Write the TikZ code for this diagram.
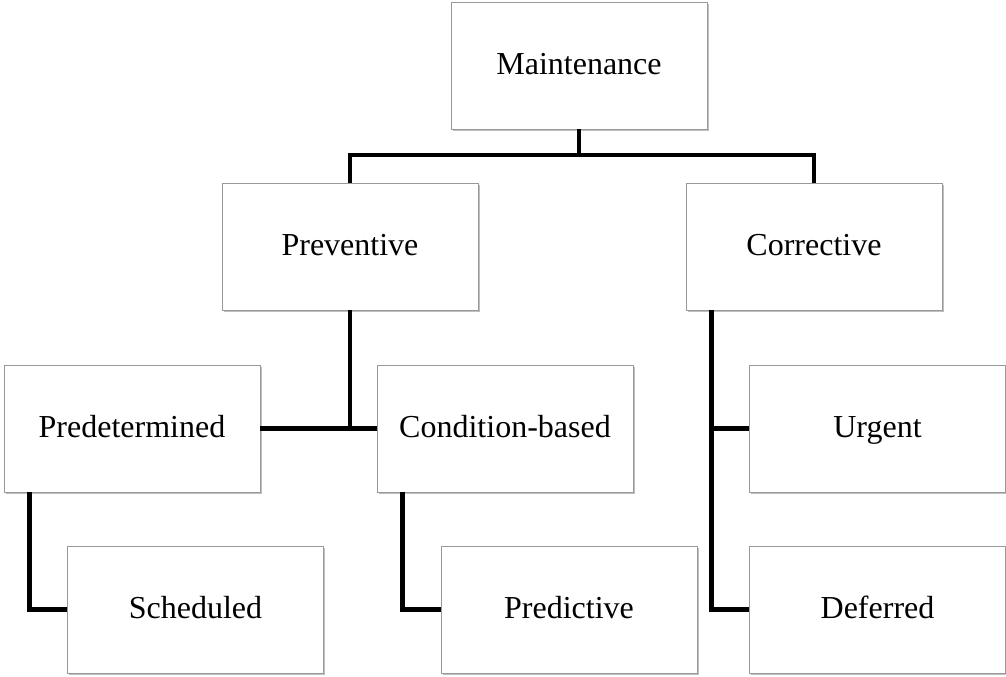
\documentclass[tikz,border=0pt]{standalone}
\usepackage{fontspec}
\setmainfont{Liberation Serif}
\usetikzlibrary{shadows,calc}
\begin{document}
\begin{tikzpicture}[x=0.75pt,y=-0.75pt,
  box/.style={draw=black!40, line width=0.6pt, fill=white, minimum width=192pt, minimum height=95.25pt, inner sep=0pt,
    text height=18pt, text depth=5.2pt,
    font=\fontsize{24}{28}\selectfont,
    drop shadow={shadow xshift=1.2pt, shadow yshift=-1.8pt, opacity=0.25, fill=black}},
  link/.style={line width=3.2pt, black}]
\useasboundingbox (0,0) rectangle (1006,677);
\node[box] (M) at (579,65.5) {Maintenance};
\node[box] (P) at (350,246.5) {Preventive};
\node[box] (C) at (814,246.5) {Corrective};
\node[box] (Pred) at (132,428.5) {Predetermined};
\node[box] (Cond) at (505,428.5) {Condition-based};
\node[box] (Urg) at (877.5,428.5) {Urgent};
\node[box] (Def) at (877.5,609.5) {Deferred};
\node[box] (Sch) at (195.5,609.5) {Scheduled};
\node[box] (Pdc) at (569,609.5) {Predictive};
\coordinate (mj) at (579,155);
\draw[link] (M.south) -- (mj);
\draw[link] (P.north) |- (mj) -| (C.north);
\coordinate (pj) at (P.south |- Pred.east);
\draw[link] (P.south) -- (pj);
\draw[link] (Pred.east) -- (Cond.west);
\coordinate (ctop) at ($(C.south west)+(26,0)$);
\draw[link] (ctop) |- (Def.west);
\draw[link] (ctop |- Urg.west) -- (Urg.west);
\coordinate (ptop) at ($(Pred.south west)+(26,0)$);
\draw[link] (ptop) |- (Sch.west);
\coordinate (qtop) at ($(Cond.south west)+(26,0)$);
\draw[link] (qtop) |- (Pdc.west);
\end{tikzpicture}
\end{document}
